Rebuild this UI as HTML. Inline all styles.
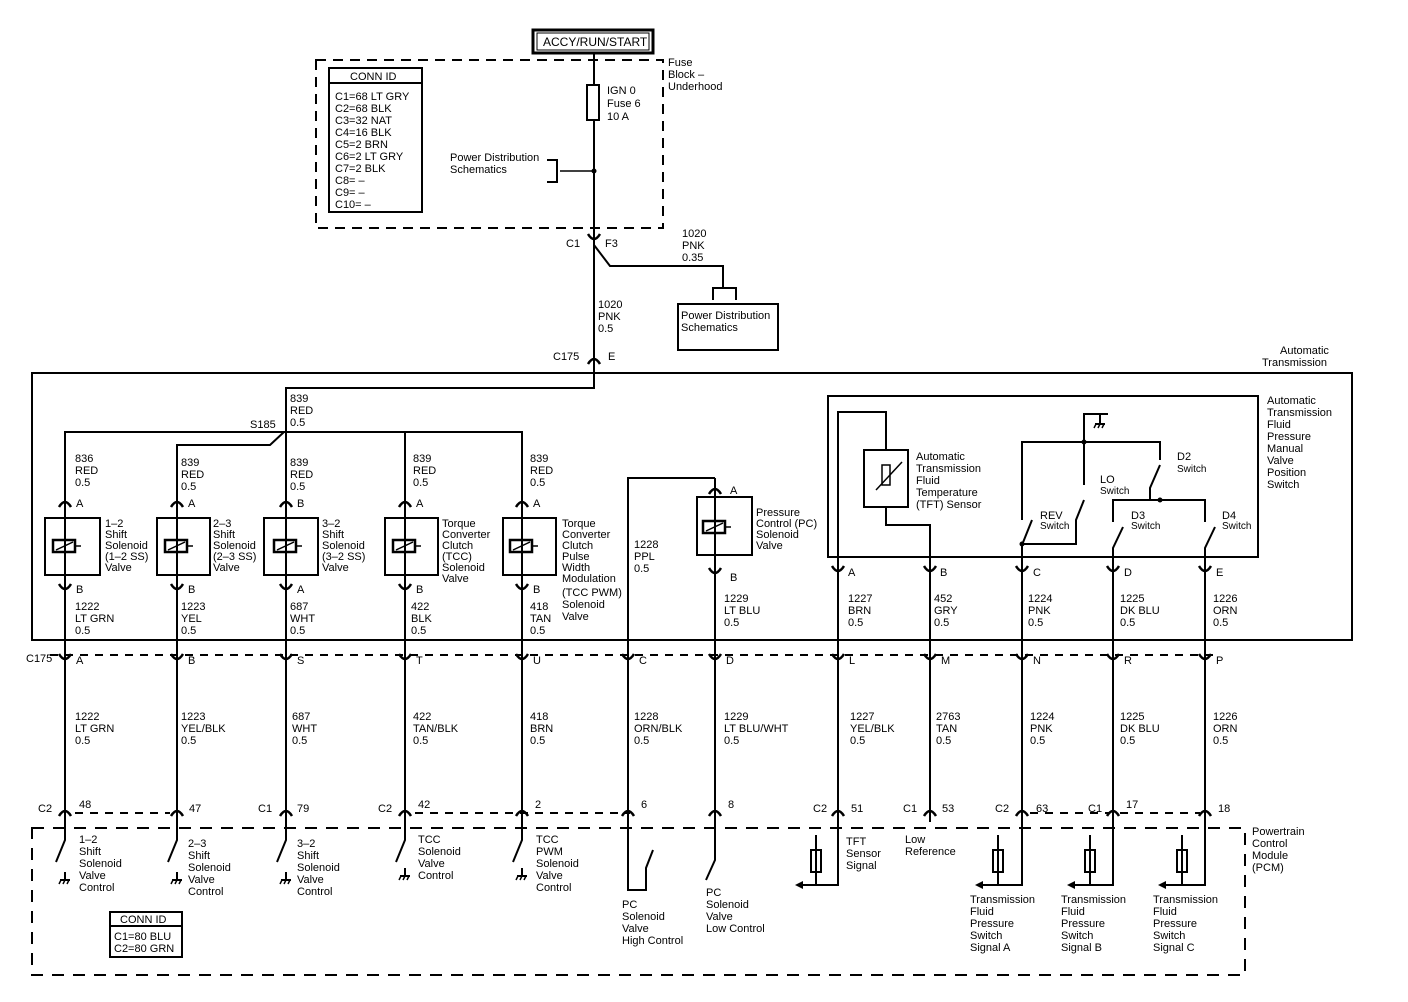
<!DOCTYPE html>
<html><head><meta charset="utf-8"><style>
html,body{margin:0;padding:0;background:#fff;}
svg{display:block;font-family:"Liberation Sans",Arial,sans-serif;font-size:11px;}
text{fill:#000;}
</style></head><body>
<svg width="1408" height="1002" viewBox="0 0 1408 1002" xmlns="http://www.w3.org/2000/svg">
<defs>
<g id="up"><path d="M-6,4 Q0,-6 6,4" fill="none" stroke="#000" stroke-width="2.5"/></g>
<g id="dn"><path d="M-6,-4 Q0,6 6,-4" fill="none" stroke="#000" stroke-width="2.5"/></g>
<g id="sol"><rect x="-12" y="-6" width="22" height="12" fill="none" stroke="#000" stroke-width="2.5"/><line x1="-9" y1="4" x2="8" y2="-4" stroke="#000" stroke-width="1.5"/><line x1="10" y1="0" x2="16" y2="0" stroke="#000" stroke-width="1.5"/></g>
<g id="gnd"><line x1="0" y1="-8" x2="0" y2="0" stroke="#000" stroke-width="2"/><line x1="-5" y1="0" x2="5" y2="0" stroke="#000" stroke-width="2"/><line x1="-4" y1="0" x2="-6" y2="4" stroke="#000" stroke-width="1.5"/><line x1="0" y1="0" x2="-2" y2="4" stroke="#000" stroke-width="1.5"/><line x1="4" y1="0" x2="2" y2="4" stroke="#000" stroke-width="1.5"/></g>
</defs>
<g stroke="#000" fill="none">
<rect x="533" y="30" width="120" height="23" stroke-width="3"/>
<rect x="537" y="33" width="112" height="17" stroke-width="1"/>
<rect x="316" y="60" width="347" height="168" stroke-width="2" stroke-dasharray="10,7"/>
<rect x="329" y="68" width="93" height="144" stroke-width="2"/>
<line x1="329" y1="83" x2="422" y2="83" stroke-width="2"/>
<line x1="594" y1="53" x2="594" y2="380" stroke-width="2"/>
<rect x="587" y="85" width="12" height="35" fill="#fff" stroke-width="2"/>
<line x1="560" y1="171" x2="594" y2="171" stroke-width="1.5"/>
<path d="M547,160 H557 V182 H547" stroke-width="2"/>
<path d="M594,245 L610,266 H723 V287" stroke-width="2"/>
<path d="M713,300 V288 H736 V300" stroke-width="2"/>
<rect x="678" y="304" width="100" height="46" stroke-width="2"/>
<rect x="32" y="373" width="1320" height="267" stroke-width="2"/>
<path d="M594,373 V388 H286 V655" stroke-width="2"/>
<path d="M65,655 V432 H286" stroke-width="2"/>
<path d="M177,655 V445 H270 L284,432" stroke-width="2"/>
<path d="M522,655 V432 H286" stroke-width="2"/>
<line x1="405" y1="432" x2="405" y2="655" stroke-width="2"/>
<rect x="45" y="518" width="55" height="57" stroke-width="2"/>
<rect x="157" y="518" width="53" height="57" stroke-width="2"/>
<rect x="264" y="518" width="54" height="57" stroke-width="2"/>
<rect x="385" y="518" width="53" height="57" stroke-width="2"/>
<rect x="503" y="518" width="53" height="57" stroke-width="2"/>
<path d="M628,822 V478 H715" stroke-width="2"/>
<line x1="715" y1="478" x2="715" y2="822" stroke-width="2"/>
<rect x="697" y="497" width="55" height="58" stroke-width="2"/>
<rect x="828" y="396" width="430" height="161" stroke-width="2"/>
<path d="M838,822 V412 H886 V432" stroke-width="2"/>
<rect x="864" y="450" width="44" height="57" stroke-width="2"/>
<rect x="882" y="465" width="8" height="20" stroke-width="1.5"/>
<line x1="876" y1="490" x2="902" y2="462" stroke-width="1.5"/>
<path d="M886,432 V450 M886,507 V525 H930 V822" stroke-width="2"/>
<path d="M1022,822 V545 L1032,520" stroke-width="2"/>
<path d="M1022,520 V442 H1160 V460" stroke-width="2"/>
<path d="M1084,485 V414 H1108 M1100,414 V420" stroke-width="2"/>
<path d="M1084,500 L1076,520 V544 H1022" stroke-width="2"/>
<path d="M1160,465 L1150,488 V500" stroke-width="2"/>
<path d="M1113,522 V500 H1205 V522" stroke-width="2"/>
<path d="M1113,822 V548 L1123,527" stroke-width="2"/>
<path d="M1205,822 V548 L1215,527" stroke-width="2"/>
<line x1="65" y1="655" x2="65" y2="822" stroke-width="2"/>
<line x1="177" y1="655" x2="177" y2="822" stroke-width="2"/>
<line x1="286" y1="655" x2="286" y2="822" stroke-width="2"/>
<line x1="405" y1="655" x2="405" y2="822" stroke-width="2"/>
<line x1="522" y1="655" x2="522" y2="822" stroke-width="2"/>
<line x1="838" y1="655" x2="838" y2="822" stroke-width="2"/>
<line x1="50" y1="655" x2="1215" y2="655" stroke-width="2" stroke-dasharray="8,7"/>
<line x1="75" y1="813" x2="170" y2="813" stroke-width="2" stroke-dasharray="8,7"/>
<line x1="415" y1="813" x2="630" y2="813" stroke-width="2" stroke-dasharray="8,7"/>
<line x1="1030" y1="813" x2="1110" y2="813" stroke-width="2" stroke-dasharray="8,7"/>
<line x1="1120" y1="813" x2="1200" y2="813" stroke-width="2" stroke-dasharray="8,7"/>
<rect x="32" y="828" width="1213" height="147" stroke-width="2" stroke-dasharray="12,9"/>
<rect x="110" y="912" width="72" height="45" stroke-width="2"/>
<line x1="110" y1="926" x2="182" y2="926" stroke-width="2"/>
<path d="M65,822 V840 L56,862" stroke-width="2"/>
<path d="M177,822 V840 L168,862" stroke-width="2"/>
<path d="M286,822 V840 L277,862" stroke-width="2"/>
<path d="M405,822 V840 L396,862" stroke-width="2"/>
<path d="M522,822 V840 L513,862" stroke-width="2"/>
<path d="M628,822 V890 H646 V868 L653,850" stroke-width="2"/>
<path d="M715,822 V860 L706,880" stroke-width="2"/>
<path d="M838,822 V885 H800 M816,835 V885" stroke-width="2"/>
<rect x="811" y="850" width="10" height="22" stroke-width="2"/>
<path d="M1022,822 V885 H980 M998,835 V885" stroke-width="2"/>
<rect x="993" y="850" width="10" height="22" stroke-width="2"/>
<path d="M1113,822 V885 H1072 M1090,835 V885" stroke-width="2"/>
<rect x="1085" y="850" width="10" height="22" stroke-width="2"/>
<path d="M1205,822 V885 H1163 M1182,835 V885" stroke-width="2"/>
<rect x="1177" y="850" width="10" height="22" stroke-width="2"/>
</g>
<g fill="#000">
<path d="M795,885 l8,-4 v8z"/><path d="M975,885 l8,-4 v8z"/><path d="M1067,885 l8,-4 v8z"/><path d="M1158,885 l8,-4 v8z"/>
<circle cx="594" cy="171" r="2.5"/><circle cx="1084" cy="442" r="2.5"/><circle cx="1160" cy="500" r="2.5"/><circle cx="1022" cy="544" r="2.5"/>
</g>
<use href="#gnd" x="65" y="880"/><use href="#gnd" x="177" y="880"/><use href="#gnd" x="286" y="880"/><use href="#gnd" x="405" y="876"/><use href="#gnd" x="522" y="876"/><use href="#gnd" x="1100" y="424"/>
<use href="#sol" x="65" y="546"/><use href="#sol" x="177" y="546"/><use href="#sol" x="286" y="546"/><use href="#sol" x="405" y="546"/><use href="#sol" x="522" y="546"/><use href="#sol" x="715" y="527"/>
<use href="#dn" x="594" y="238"/><use href="#up" x="594" y="360"/>
<use href="#up" x="65" y="503"/><use href="#up" x="177" y="503"/><use href="#up" x="286" y="503"/><use href="#up" x="405" y="503"/><use href="#up" x="522" y="503"/><use href="#up" x="715" y="490"/>
<use href="#dn" x="65" y="588"/><use href="#dn" x="177" y="588"/><use href="#dn" x="286" y="588"/><use href="#dn" x="405" y="588"/><use href="#dn" x="522" y="588"/><use href="#dn" x="715" y="572"/>
<use href="#dn" x="838" y="570"/><use href="#dn" x="930" y="570"/><use href="#dn" x="1022" y="570"/><use href="#dn" x="1113" y="570"/><use href="#dn" x="1205" y="570"/>
<use href="#dn" x="65" y="658"/><use href="#dn" x="177" y="658"/><use href="#dn" x="286" y="658"/><use href="#dn" x="405" y="658"/><use href="#dn" x="522" y="658"/><use href="#dn" x="628" y="658"/><use href="#dn" x="715" y="658"/><use href="#dn" x="838" y="658"/><use href="#dn" x="930" y="658"/><use href="#dn" x="1022" y="658"/><use href="#dn" x="1113" y="658"/><use href="#dn" x="1205" y="658"/>
<use href="#up" x="65" y="812"/><use href="#up" x="177" y="812"/><use href="#up" x="286" y="812"/><use href="#up" x="405" y="812"/><use href="#up" x="522" y="812"/><use href="#up" x="628" y="812"/><use href="#up" x="715" y="812"/><use href="#up" x="838" y="812"/><use href="#up" x="930" y="812"/><use href="#up" x="1022" y="812"/><use href="#up" x="1113" y="812"/><use href="#up" x="1205" y="812"/>
<text x="543" y="46" font-size="12">ACCY/RUN/START</text>
<text x="350" y="80">CONN ID</text>
<text x="335" y="100">C1=68 LT GRY</text><text x="335" y="112">C2=68 BLK</text><text x="335" y="124">C3=32 NAT</text><text x="335" y="136">C4=16 BLK</text><text x="335" y="148">C5=2 BRN</text><text x="335" y="160">C6=2 LT GRY</text><text x="335" y="172">C7=2 BLK</text><text x="335" y="184">C8= –</text><text x="335" y="196">C9= –</text><text x="335" y="208">C10= –</text>
<text x="607" y="94">IGN 0</text><text x="607" y="107">Fuse 6</text><text x="607" y="120">10 A</text>
<text x="668" y="66">Fuse</text><text x="668" y="78">Block –</text><text x="668" y="90">Underhood</text>
<text x="450" y="161">Power Distribution</text><text x="450" y="173">Schematics</text>
<text x="566" y="247">C1</text><text x="605" y="247">F3</text>
<text x="682" y="237">1020</text><text x="682" y="249">PNK</text><text x="682" y="261">0.35</text>
<text x="598" y="308">1020</text><text x="598" y="320">PNK</text><text x="598" y="332">0.5</text>
<text x="681" y="319">Power Distribution</text><text x="681" y="331">Schematics</text>
<text x="553" y="360">C175</text><text x="608" y="360">E</text>
<text x="1280" y="354">Automatic</text><text x="1262" y="366">Transmission</text>
<text x="290" y="402">839</text><text x="290" y="414">RED</text><text x="290" y="426">0.5</text>
<text x="250" y="428">S185</text>
<text x="75" y="462">836</text><text x="75" y="474">RED</text><text x="75" y="486">0.5</text>
<text x="181" y="466">839</text><text x="181" y="478">RED</text><text x="181" y="490">0.5</text>
<text x="290" y="466">839</text><text x="290" y="478">RED</text><text x="290" y="490">0.5</text>
<text x="413" y="462">839</text><text x="413" y="474">RED</text><text x="413" y="486">0.5</text>
<text x="530" y="462">839</text><text x="530" y="474">RED</text><text x="530" y="486">0.5</text>
<text x="76" y="507">A</text><text x="188" y="507">A</text><text x="297" y="507">B</text><text x="416" y="507">A</text><text x="533" y="507">A</text><text x="730" y="494">A</text>
<text x="76" y="593">B</text><text x="188" y="593">B</text><text x="297" y="593">A</text><text x="416" y="593">B</text><text x="533" y="593">B</text><text x="730" y="581">B</text>
<text x="105" y="527">1–2</text><text x="105" y="538">Shift</text><text x="105" y="549">Solenoid</text><text x="105" y="560">(1–2 SS)</text><text x="105" y="571">Valve</text>
<text x="213" y="527">2–3</text><text x="213" y="538">Shift</text><text x="213" y="549">Solenoid</text><text x="213" y="560">(2–3 SS)</text><text x="213" y="571">Valve</text>
<text x="322" y="527">3–2</text><text x="322" y="538">Shift</text><text x="322" y="549">Solenoid</text><text x="322" y="560">(3–2 SS)</text><text x="322" y="571">Valve</text>
<text x="442" y="527">Torque</text><text x="442" y="538">Converter</text><text x="442" y="549">Clutch</text><text x="442" y="560">(TCC)</text><text x="442" y="571">Solenoid</text><text x="442" y="582">Valve</text>
<text x="562" y="527">Torque</text><text x="562" y="538">Converter</text><text x="562" y="549">Clutch</text><text x="562" y="560">Pulse</text><text x="562" y="571">Width</text><text x="562" y="582">Modulation</text><text x="562" y="596">(TCC PWM)</text><text x="562" y="608">Solenoid</text><text x="562" y="620">Valve</text>
<text x="756" y="516">Pressure</text><text x="756" y="527">Control (PC)</text><text x="756" y="538">Solenoid</text><text x="756" y="549">Valve</text>
<text x="634" y="548">1228</text><text x="634" y="560">PPL</text><text x="634" y="572">0.5</text>
<text x="75" y="610">1222</text><text x="75" y="622">LT GRN</text><text x="75" y="634">0.5</text>
<text x="181" y="610">1223</text><text x="181" y="622">YEL</text><text x="181" y="634">0.5</text>
<text x="290" y="610">687</text><text x="290" y="622">WHT</text><text x="290" y="634">0.5</text>
<text x="411" y="610">422</text><text x="411" y="622">BLK</text><text x="411" y="634">0.5</text>
<text x="530" y="610">418</text><text x="530" y="622">TAN</text><text x="530" y="634">0.5</text>
<text x="724" y="602">1229</text><text x="724" y="614">LT BLU</text><text x="724" y="626">0.5</text>
<text x="848" y="602">1227</text><text x="848" y="614">BRN</text><text x="848" y="626">0.5</text>
<text x="934" y="602">452</text><text x="934" y="614">GRY</text><text x="934" y="626">0.5</text>
<text x="1028" y="602">1224</text><text x="1028" y="614">PNK</text><text x="1028" y="626">0.5</text>
<text x="1120" y="602">1225</text><text x="1120" y="614">DK BLU</text><text x="1120" y="626">0.5</text>
<text x="1213" y="602">1226</text><text x="1213" y="614">ORN</text><text x="1213" y="626">0.5</text>
<text x="848" y="576">A</text><text x="940" y="576">B</text><text x="1033" y="576">C</text><text x="1124" y="576">D</text><text x="1216" y="576">E</text>
<text x="916" y="460">Automatic</text><text x="916" y="472">Transmission</text><text x="916" y="484">Fluid</text><text x="916" y="496">Temperature</text><text x="916" y="508">(TFT) Sensor</text>
<text x="1040" y="519">REV</text><text x="1040" y="529" font-size="10">Switch</text>
<text x="1100" y="483">LO</text><text x="1100" y="494" font-size="10">Switch</text>
<text x="1177" y="460">D2</text><text x="1177" y="472" font-size="10">Switch</text>
<text x="1131" y="519">D3</text><text x="1131" y="529" font-size="10">Switch</text>
<text x="1222" y="519">D4</text><text x="1222" y="529" font-size="10">Switch</text>
<text x="1267" y="404">Automatic</text><text x="1267" y="416">Transmission</text><text x="1267" y="428">Fluid</text><text x="1267" y="440">Pressure</text><text x="1267" y="452">Manual</text><text x="1267" y="464">Valve</text><text x="1267" y="476">Position</text><text x="1267" y="488">Switch</text>
<text x="26" y="662">C175</text>
<text x="76" y="664">A</text><text x="188" y="664">B</text><text x="297" y="664">S</text><text x="416" y="664">T</text><text x="533" y="664">U</text><text x="639" y="664">C</text><text x="726" y="664">D</text><text x="849" y="664">L</text><text x="941" y="664">M</text><text x="1033" y="664">N</text><text x="1124" y="664">R</text><text x="1216" y="664">P</text>
<text x="75" y="720">1222</text><text x="75" y="732">LT GRN</text><text x="75" y="744">0.5</text>
<text x="181" y="720">1223</text><text x="181" y="732">YEL/BLK</text><text x="181" y="744">0.5</text>
<text x="292" y="720">687</text><text x="292" y="732">WHT</text><text x="292" y="744">0.5</text>
<text x="413" y="720">422</text><text x="413" y="732">TAN/BLK</text><text x="413" y="744">0.5</text>
<text x="530" y="720">418</text><text x="530" y="732">BRN</text><text x="530" y="744">0.5</text>
<text x="634" y="720">1228</text><text x="634" y="732">ORN/BLK</text><text x="634" y="744">0.5</text>
<text x="724" y="720">1229</text><text x="724" y="732">LT BLU/WHT</text><text x="724" y="744">0.5</text>
<text x="850" y="720">1227</text><text x="850" y="732">YEL/BLK</text><text x="850" y="744">0.5</text>
<text x="936" y="720">2763</text><text x="936" y="732">TAN</text><text x="936" y="744">0.5</text>
<text x="1030" y="720">1224</text><text x="1030" y="732">PNK</text><text x="1030" y="744">0.5</text>
<text x="1120" y="720">1225</text><text x="1120" y="732">DK BLU</text><text x="1120" y="744">0.5</text>
<text x="1213" y="720">1226</text><text x="1213" y="732">ORN</text><text x="1213" y="744">0.5</text>
<text x="38" y="812">C2</text><text x="79" y="808">48</text>
<text x="189" y="812">47</text>
<text x="258" y="812">C1</text><text x="297" y="812">79</text>
<text x="378" y="812">C2</text><text x="418" y="808">42</text>
<text x="535" y="808">2</text>
<text x="641" y="808">6</text>
<text x="728" y="808">8</text>
<text x="813" y="812">C2</text><text x="851" y="812">51</text>
<text x="903" y="812">C1</text><text x="942" y="812">53</text>
<text x="995" y="812">C2</text><text x="1036" y="812">63</text>
<text x="1088" y="812">C1</text><text x="1126" y="808">17</text>
<text x="1218" y="812">18</text>
<text x="79" y="843">1–2</text><text x="79" y="855">Shift</text><text x="79" y="867">Solenoid</text><text x="79" y="879">Valve</text><text x="79" y="891">Control</text>
<text x="188" y="847">2–3</text><text x="188" y="859">Shift</text><text x="188" y="871">Solenoid</text><text x="188" y="883">Valve</text><text x="188" y="895">Control</text>
<text x="297" y="847">3–2</text><text x="297" y="859">Shift</text><text x="297" y="871">Solenoid</text><text x="297" y="883">Valve</text><text x="297" y="895">Control</text>
<text x="418" y="843">TCC</text><text x="418" y="855">Solenoid</text><text x="418" y="867">Valve</text><text x="418" y="879">Control</text>
<text x="536" y="843">TCC</text><text x="536" y="855">PWM</text><text x="536" y="867">Solenoid</text><text x="536" y="879">Valve</text><text x="536" y="891">Control</text>
<text x="622" y="908">PC</text><text x="622" y="920">Solenoid</text><text x="622" y="932">Valve</text><text x="622" y="944">High Control</text>
<text x="706" y="896">PC</text><text x="706" y="908">Solenoid</text><text x="706" y="920">Valve</text><text x="706" y="932">Low Control</text>
<text x="846" y="845">TFT</text><text x="846" y="857">Sensor</text><text x="846" y="869">Signal</text>
<text x="905" y="843">Low</text><text x="905" y="855">Reference</text>
<text x="970" y="903">Transmission</text><text x="970" y="915">Fluid</text><text x="970" y="927">Pressure</text><text x="970" y="939">Switch</text><text x="970" y="951">Signal A</text>
<text x="1061" y="903">Transmission</text><text x="1061" y="915">Fluid</text><text x="1061" y="927">Pressure</text><text x="1061" y="939">Switch</text><text x="1061" y="951">Signal B</text>
<text x="1153" y="903">Transmission</text><text x="1153" y="915">Fluid</text><text x="1153" y="927">Pressure</text><text x="1153" y="939">Switch</text><text x="1153" y="951">Signal C</text>
<text x="1252" y="835">Powertrain</text><text x="1252" y="847">Control</text><text x="1252" y="859">Module</text><text x="1252" y="871">(PCM)</text>
<text x="120" y="923">CONN ID</text>
<text x="114" y="940">C1=80 BLU</text><text x="114" y="952">C2=80 GRN</text>
</svg>
</body></html>
